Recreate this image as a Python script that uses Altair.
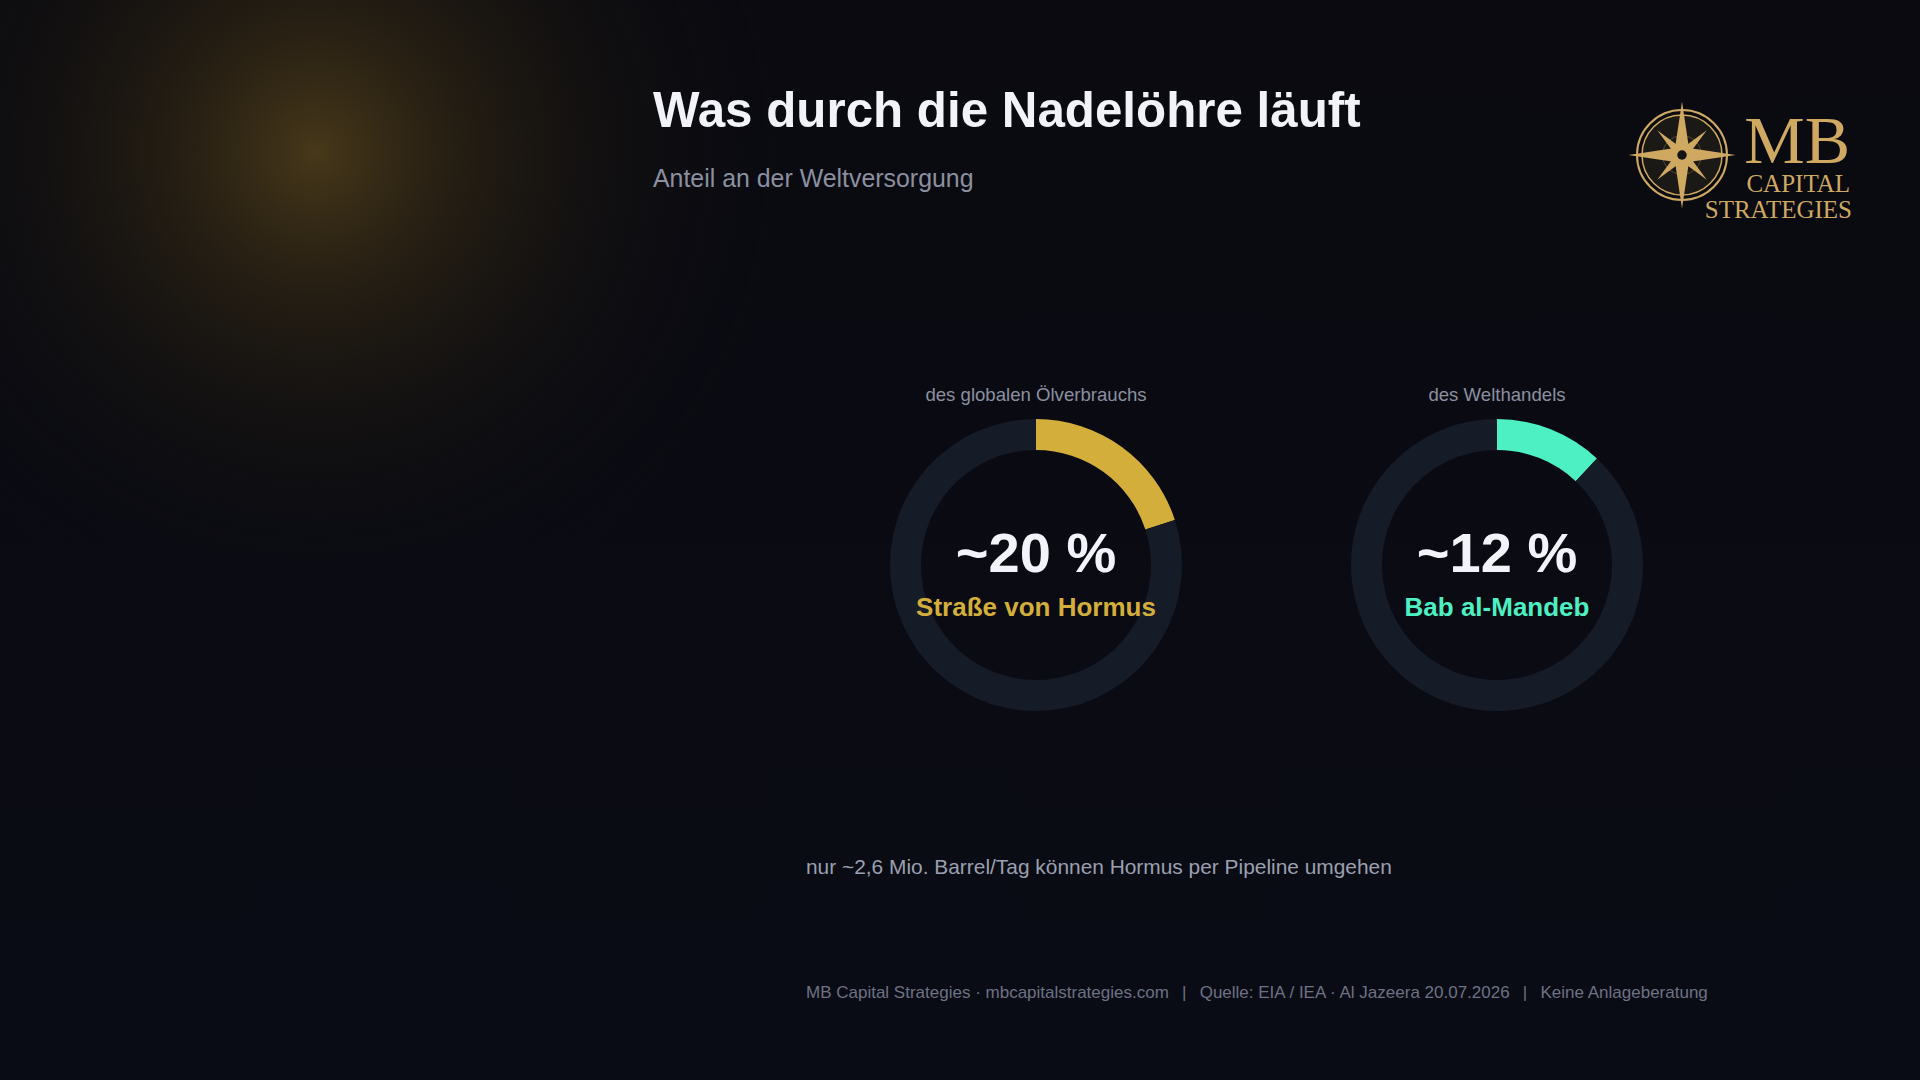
import altair as alt
import pandas as pd

# ---------------- data ----------------
TITLE = "Was durch die Nadelöhre läuft"
SUBTITLE = "Anteil an der Weltversorgung"
routes = ["Straße von Hormus", "Bab al-Mandeb"]
shares = [20, 12]
metrics = ["des globalen Ölverbrauchs", "des Welthandels"]
NOTE = "nur ~2,6 Mio. Barrel/Tag können Hormus per Pipeline umgehen"
SEP = "\u2002\u00a0|\u2002\u00a0"
FOOTER_PARTS = ["MB Capital Strategies · mbcapitalstrategies.com",
                "Quelle: EIA / IEA · Al Jazeera 20.07.2026",
                "Keine Anlageberatung"]
LOGO_BIG = "MB"
LOGO_L2 = "CAPITAL"
LOGO_L3 = "STRATEGIES"

# ---------------- style ----------------
W, H = 1920, 1080
BG = "#0a0c14"
GOLD = "#d4ae3a"
TEAL = "#4cf0c2"
TRACK = "#151b27"
ACCENTS = [GOLD, TEAL]
LOGO_GOLD = "#cfa961"
CENTERS = [1036, 1497]
CY = 565
SANS = "Liberation Sans"
SERIF = "Liberation Serif"


def one(**kw):
    return pd.DataFrame([kw])


def text_layer(txt, x, y, size, color, weight="normal", align="left", font=SANS):
    return alt.Chart(one(t=txt)).mark_text(
        align=align, baseline="alphabetic", fontSize=size, fontWeight=weight,
        color=color, font=font,
    ).encode(x=alt.value(x), y=alt.value(y), text="t:N")


layers = []

# background gradient
bg = alt.Chart(one(k=0)).mark_rect(
    fill=alt.LinearGradient(
        gradient="linear",
        stops=[alt.GradientStop(color="#0a0a10", offset=0),
               alt.GradientStop(color="#0a0c15", offset=1)],
        x1=0, y1=0, x2=0, y2=1),
).encode(x=alt.value(0), x2=alt.value(W), y=alt.value(0), y2=alt.value(H))
layers.append(bg)

# warm glow top-left (clipped to the view)
glow = alt.Chart(one(k=0)).mark_arc(
    radius=480, theta=0, theta2=6.2832, clip=True,
    fill=alt.RadialGradient(
        gradient="radial",
        stops=[alt.GradientStop(color="rgba(74,58,26,0.95)", offset=0),
               alt.GradientStop(color="rgba(54,42,20,0.6)", offset=0.3),
               alt.GradientStop(color="rgba(32,26,16,0.3)", offset=0.62),
               alt.GradientStop(color="rgba(10,12,20,0)", offset=1)],
        x1=0.5, y1=0.5, r1=0, x2=0.5, y2=0.5, r2=0.5),
).encode(x=alt.value(316), y=alt.value(152))
layers.append(glow)

# donuts
keys, cols = [], []
for i, r in enumerate(routes):
    keys += [r + "|share", r + "|rest"]
    cols += [ACCENTS[i], TRACK]
color_scale = alt.Scale(domain=keys, range=cols)

for i, r in enumerate(routes):
    d = pd.DataFrame({
        "key": [r + "|share", r + "|rest"],
        "value": [shares[i], 100 - shares[i]],
        "ord": [0, 1],
    })
    donut = alt.Chart(d).mark_arc(radius=146, radius2=115, strokeWidth=0).encode(
        theta=alt.Theta("value:Q", stack=True),
        color=alt.Color("key:N", scale=color_scale, legend=None),
        order=alt.Order("ord:Q"),
        x=alt.value(CENTERS[i]), y=alt.value(CY),
    )
    layers.append(donut)
    layers.append(text_layer(metrics[i], CENTERS[i], 401, 18.6, "#8b90a0", align="center"))
    layers.append(text_layer(f"~{shares[i]} %", CENTERS[i], 572, 56, "#f2f4fa",
                             weight="bold", align="center"))
    layers.append(text_layer(r, CENTERS[i], 616, 26, ACCENTS[i], weight="bold", align="center"))

# titles and notes
layers.append(text_layer(TITLE, 653, 127, 49.3, "#f1f3f9", weight="bold"))
layers.append(text_layer(SUBTITLE, 653, 187, 24.9, "#8b90a0"))
layers.append(text_layer(NOTE, 806, 874, 20.9, "#9ba0b1"))
layers.append(text_layer(SEP.join(FOOTER_PARTS), 806, 998, 17, "#6d7284"))

# logo
LX, LY = 1682, 155
STAR = "M0,-1 L0.13,-0.13 L1,0 L0.13,0.13 L0,1 L-0.13,0.13 L-1,0 L-0.13,-0.13 Z"
logo_df = one(k=0)
layers.append(alt.Chart(logo_df).mark_point(
    shape="circle", size=8100, filled=False, stroke=LOGO_GOLD, strokeWidth=2, opacity=1,
).encode(x=alt.value(LX), y=alt.value(LY)))
layers.append(alt.Chart(logo_df).mark_point(
    shape="circle", size=6400, filled=True, fill="#1a1916", stroke=LOGO_GOLD,
    strokeWidth=1.5, opacity=1,
).encode(x=alt.value(LX), y=alt.value(LY)))
layers.append(alt.Chart(logo_df).mark_point(
    shape="circle", size=1500, filled=False, stroke="#5a4a2c", strokeWidth=1, opacity=1,
).encode(x=alt.value(LX), y=alt.value(LY)))
layers.append(alt.Chart(logo_df).mark_point(
    shape=STAR, size=4900, angle=45, filled=True, fill=LOGO_GOLD, strokeWidth=0, opacity=1,
).encode(x=alt.value(LX), y=alt.value(LY)))
layers.append(alt.Chart(logo_df).mark_point(
    shape=STAR, size=11500, filled=True, fill=LOGO_GOLD, strokeWidth=0, opacity=1,
).encode(x=alt.value(LX), y=alt.value(LY)))
layers.append(alt.Chart(logo_df).mark_point(
    shape="circle", size=90, filled=True, fill="#141414", strokeWidth=0, opacity=1,
).encode(x=alt.value(LX), y=alt.value(LY)))
layers.append(text_layer(LOGO_BIG, 1850, 163, 68, LOGO_GOLD, align="right", font=SERIF))
layers.append(text_layer(LOGO_L2, 1850, 192, 25, LOGO_GOLD, align="right", font=SERIF))
layers.append(text_layer(LOGO_L3, 1852, 218, 25, LOGO_GOLD, align="right", font=SERIF))

chart = alt.layer(*layers).properties(
    width=W, height=H,
    autosize=alt.AutoSizeParams(type="fit", contains="padding"),
    padding=0,
    background=BG,
).configure_view(strokeWidth=0)

chart.save("out.html", embed_options={"renderer": "svg", "actions": False})
